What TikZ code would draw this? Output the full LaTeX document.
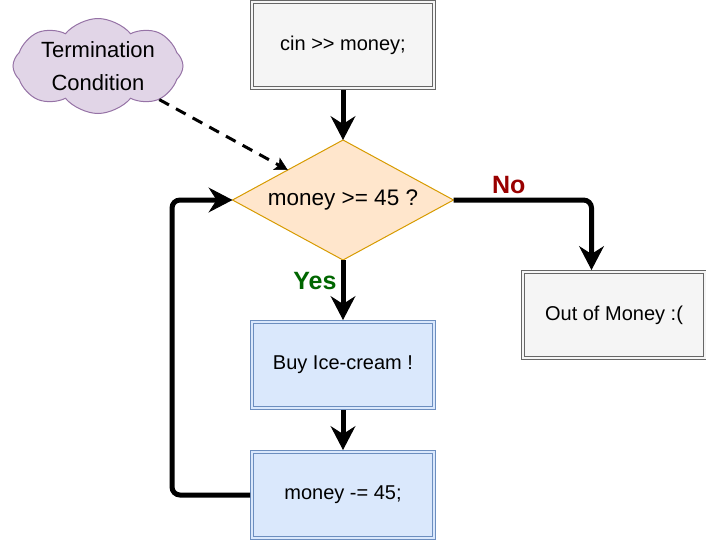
\documentclass[tikz,border=0pt]{standalone}
\usepackage{fontspec}
\setmainfont{Liberation Sans}
\usetikzlibrary{positioning,shapes.geometric,shapes.symbols,arrows.meta}
\definecolor{grayfill}{HTML}{F5F5F5}
\definecolor{grayline}{HTML}{666666}
\definecolor{bluefill}{HTML}{DAE8FC}
\definecolor{blueline}{HTML}{6C8EBF}
\definecolor{orangefill}{HTML}{FFE6CC}
\definecolor{orangeline}{HTML}{D79B00}
\definecolor{purplefill}{HTML}{E1D5E7}
\definecolor{purpleline}{HTML}{9673A6}
\definecolor{nored}{HTML}{990000}
\definecolor{yesgreen}{HTML}{006600}
\tikzset{graybox/.style={rectangle,draw=grayline,fill=grayfill,double=grayfill,double distance=2pt,line width=1pt,
		minimum width=182pt,minimum height=86pt,outer sep=2pt,font=\fontsize{20}{24}\selectfont},
	 bluebox/.style={graybox,draw=blueline,fill=bluefill,double=bluefill},
	 decision/.style={diamond,aspect=1.84,draw=orangeline,fill=orangefill,line width=1pt,inner sep=0pt,outer sep=0pt,
		minimum width=221pt,minimum height=120pt,font=\fontsize{22.5}{27}\selectfont},
	 note/.style={cloud,cloud puffs=8,cloud puff arc=100,cloud ignores aspect,draw=purpleline,fill=purplefill,line width=1pt,
		minimum width=170pt,minimum height=95pt,inner sep=0pt,align=center,font=\fontsize{22}{33}\selectfont},
	 flow/.style={line width=5pt,-{Stealth[length=24pt,width=25pt,inset=8pt,line width=1pt]}},
	 dasharrow/.style={line width=3pt,dash pattern=on 11pt off 8pt,-{Stealth[length=13pt,width=14pt,inset=3pt,line width=0.5pt]}},
	 nolabel/.style={text=nored,font=\bfseries\fontsize{25}{30}\selectfont,inner sep=4pt},
	 yeslabel/.style={text=yesgreen,font=\bfseries\fontsize{25}{30}\selectfont,inner sep=4pt}
	 }
\begin{document}
\begin{tikzpicture}[x=1pt,y=-1pt]% ice-cream loop
        \useasboundingbox (0,0) rectangle (706,541);
        \node[graybox] (cin) at (343,45) {cin >{}> money;};
        \node[decision] (dec) [below=50pt of cin] {money >= 45 ?};
        \node[bluebox] (buy) [below=60pt of dec] {Buy Ice-cream !};
        \node[bluebox] (sub) [below=40pt of buy] {money -= 45;};
        \node[graybox] (out) [below right=70pt and 67.5pt of dec.east] {Out of Money :(};
        \node[note] (cond) at (98,66) {Termination\\Condition};
        \draw[flow] (cin) to (dec);
        \draw[flow] (dec) to node[yeslabel,pos=0.35,left] {Yes} (buy);
        \draw[flow] (buy) to (sub);
        \draw[flow,rounded corners=8pt] (dec.east) -| node[nolabel,pos=0.2,above] {No} ([xshift=-22.5pt]out.north);
        \draw[flow,rounded corners=8pt] (sub.west) -- ++(-78pt,0) |- (dec.west);
        \draw[dasharrow] (cond) to (dec.north west);
     \end{tikzpicture}
\end{document}
